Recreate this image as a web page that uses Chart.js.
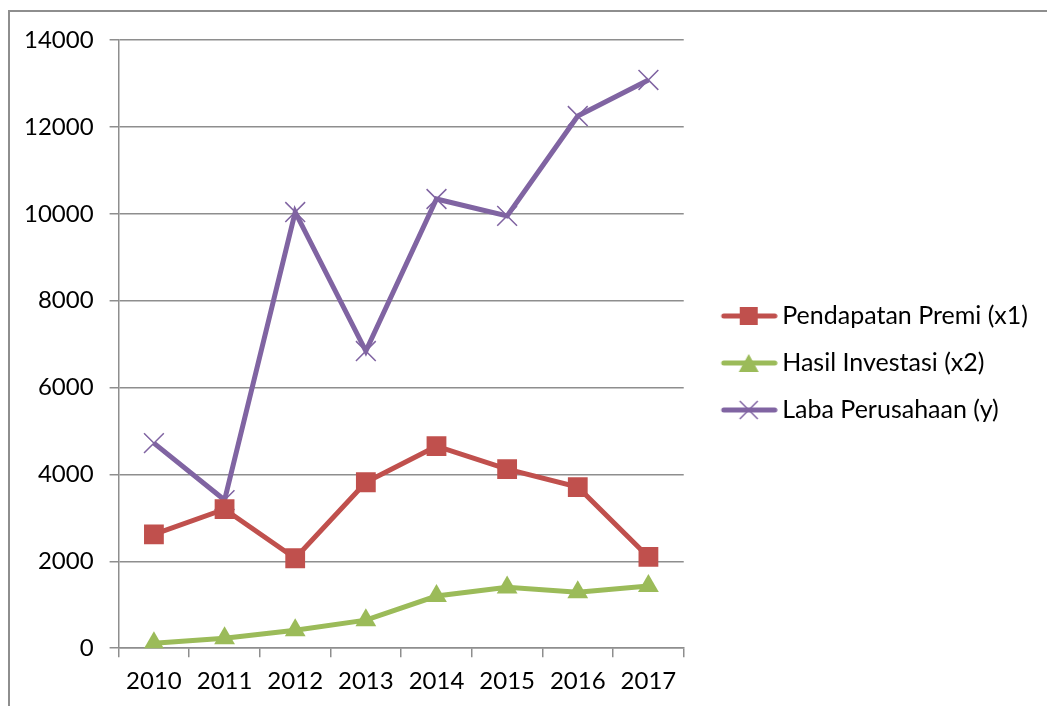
<!DOCTYPE html>
<html>
<head>
<meta charset="utf-8">
<script src="https://cdn.jsdelivr.net/npm/chart.js@4.4.0/dist/chart.umd.min.js"></script>
<style>
    body { margin: 0; background: #fff; }
    .frame { position: absolute; left: 8px; top: 10px; width: 1100px; height: 760px; border-left: 2px solid #8e8e8e; border-top: 2px solid #8e8e8e; }
    .wrap { position: absolute; left: 0; top: 0; width: 1047px; height: 706px; }
</style>
</head>
<body>
<div class="frame"></div>
<div class="wrap"><canvas id="profitChart" width="1047" height="706"></canvas></div>
<script>
// Data
const years = ["2010", "2011", "2012", "2013", "2014", "2015", "2016", "2017"];
const premiIncome = [2620, 3200, 2070, 3820, 4650, 4120, 3710, 2100];
const investResult = [115, 230, 415, 645, 1200, 1400, 1290, 1430];
const companyProfit = [4720, 3410, 10040, 6840, 10340, 9950, 12250, 13080];
const yTicks = [0, 2000, 4000, 6000, 8000, 10000, 12000, 14000];

const red = "#C0504D";
const green = "#9BBB59";
const purple = "#8064A2";

// legend sample: line with the marker in the middle
// (left part of the image is empty so the sample sits further from the plot)
function legendSample(color, style) {
    const c = document.createElement("canvas");
    c.width = 80;
    c.height = 22;
    const g = c.getContext("2d");
    const mid = 51;
    g.strokeStyle = color;
    g.fillStyle = color;
    g.lineWidth = 5;
    g.lineCap = "round";
    g.beginPath();
    g.moveTo(26, 11);
    g.lineTo(77, 11);
    g.stroke();
    if (style === "rect") {
        g.fillRect(mid - 9, 2, 18, 18);
    } else if (style === "triangle") {
        g.beginPath();
        g.moveTo(mid, 2);
        g.lineTo(mid + 10, 20);
        g.lineTo(mid - 10, 20);
        g.closePath();
        g.fill();
    } else {
        g.lineWidth = 1.5;
        g.lineCap = "butt";
        g.beginPath();
        g.moveTo(mid - 9, 2); g.lineTo(mid + 9, 20);
        g.moveTo(mid + 9, 2); g.lineTo(mid - 9, 20);
        g.stroke();
    }
    return c;
}

// nudge the legend up a little, it sits above the middle in the original
const legendShift = {
    id: "legendShift",
    afterLayout(chart) {
        chart.legend.top -= 10;
        chart.legend.bottom -= 10;
    }
};

document.addEventListener("DOMContentLoaded", function () {
    const ctx = document.getElementById("profitChart").getContext("2d");

    new Chart(ctx, {
        type: "line",
        data: {
            labels: years,
            datasets: [{
                label: "Pendapatan Premi (x1)",
                data: premiIncome,
                borderColor: red,
                backgroundColor: red,
                borderWidth: 5,
                pointStyle: "rect",
                pointRadius: 14,
                pointBorderWidth: 0,
                legendImg: legendSample(red, "rect"),
            }, {
                label: "Hasil Investasi (x2)",
                data: investResult,
                borderColor: green,
                backgroundColor: green,
                borderWidth: 5,
                pointStyle: "triangle",
                pointRadius: 12,
                pointBorderWidth: 0,
                legendImg: legendSample(green, "triangle"),
            }, {
                label: "Laba Perusahaan (y)",
                data: companyProfit,
                borderColor: purple,
                backgroundColor: purple,
                borderWidth: 5,
                pointStyle: "crossRot",
                pointRadius: 14,
                pointBorderWidth: 1.5,
                pointBorderColor: purple,
                legendImg: legendSample(purple, "cross"),
            }]
        },
        options: {
            responsive: false,
            animation: false,
            layout: {
                padding: { left: 8, top: 40, bottom: 0, right: 9 }
            },
            scales: {
                x: {
                    offset: true,
                    grid: {
                        offset: true,
                        drawOnChartArea: false,
                        drawTicks: true,
                        tickLength: 9,
                        color: "#8e8e8e",
                        lineWidth: 1.5,
                    },
                    border: { color: "#8e8e8e", width: 1.5 },
                    ticks: {
                        color: "#000",
                        padding: 10,
                        font: { family: "Lato", size: 24 },
                    },
                },
                y: {
                    min: 0,
                    max: 14000,
                    afterBuildTicks: function (axis) {
                        axis.ticks = yTicks.map(v => ({ value: v }));
                    },
                    grid: {
                        color: "#8e8e8e",
                        lineWidth: 1.5,
                        tickLength: 9,
                    },
                    border: { color: "#8e8e8e", width: 1.5 },
                    ticks: {
                        color: "#000",
                        padding: 16,
                        font: { family: "Lato", size: 24 },
                        callback: function (value) {
                            return String(value);
                        },
                    },
                },
            },
            plugins: {
                legend: {
                    position: "right",
                    maxWidth: 420,
                    labels: {
                        usePointStyle: true,
                        pointStyleWidth: 64,
                        padding: 22,
                        color: "#000",
                        font: { family: "Lato", size: 25 },
                        generateLabels: function (chart) {
                            const items = Chart.defaults.plugins.legend.labels.generateLabels(chart);
                            items.forEach(item => {
                                item.pointStyle = chart.data.datasets[item.datasetIndex].legendImg;
                            });
                            return items;
                        },
                    },
                },
                tooltip: { enabled: false },
            },
        },
        plugins: [legendShift]
    });
});
</script>
</body>
</html>
